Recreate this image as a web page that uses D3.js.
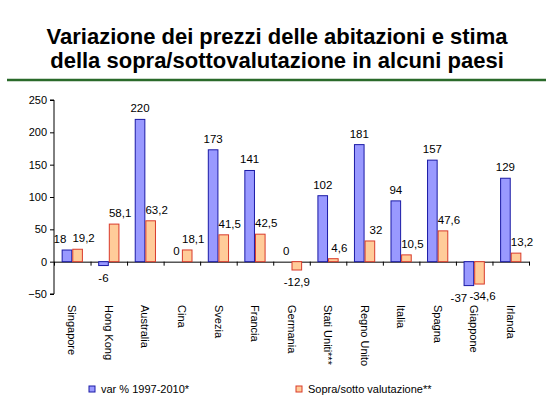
<!DOCTYPE html>
<html>
<head>
<meta charset="utf-8">
<script src="https://cdn.jsdelivr.net/npm/d3@7"></script>
<style>
  body { margin: 0; background: #fff; }
  svg { display: block; font-family: Arial, "Liberation Sans", sans-serif; }
</style>
</head>
<body>
<svg id="chart" width="551" height="404"></svg>
<script>
// dati
const categories = ['Singapore', 'Hong Kong', 'Australia', 'Cina', 'Svezia', 'Francia', 'Germania',
  'Stati Uniti***', 'Regno Unito', 'Italia', 'Spagna', 'Giappone', 'Irlanda'];
const varPrezzi = [18, -6, 220, 0, 173, 141, 0, 102, 181, 94, 157, -37, 129];
const sopraSotto = [19.2, 58.1, 63.2, 18.1, 41.5, 42.5, -12.9, 4.6, 32, 10.5, 47.6, -34.6, 13.2];
const seriesNames = ['var % 1997-2010*', 'Sopra/sotto valutazione**'];
const yTicks = [-50, 0, 50, 100, 150, 200, 250];
const titleLines = ['Variazione dei prezzi delle abitazioni e stima',
  'della sopra/sottovalutazione in alcuni paesi'];

const colors = [
  { fill: '#9999ff', stroke: '#1a1aa6' },
  { fill: '#ffcc99', stroke: '#d93a2b' }
];

const svg = d3.select('#chart');

// titolo
svg.append('g').selectAll('text')
  .data(titleLines)
  .enter().append('text')
  .attr('x', 277)
  .attr('y', (d, i) => 44 + i * 24)
  .attr('text-anchor', 'middle')
  .attr('font-size', 22)
  .attr('font-weight', 'bold')
  .attr('fill', '#000')
  .text(d => d);

svg.append('line')
  .attr('x1', 7).attr('x2', 546)
  .attr('y1', 80).attr('y2', 80)
  .attr('stroke', '#2a6a2a')
  .attr('stroke-width', 2.5);

// scale
const x = d3.scaleBand().domain(categories).range([54, 529]).paddingInner(0).paddingOuter(0);
const xs = d3.scaleBand().domain([0, 1]).range([0, x.bandwidth()]).paddingInner(0).paddingOuter(0.72);
const y = d3.scaleLinear().domain([-50, 250]).range([294, 100]);

// asse y
const yAxis = svg.append('g')
  .attr('transform', 'translate(54,0)')
  .call(d3.axisLeft(y).tickValues(yTicks).tickSize(4).tickPadding(3));
yAxis.selectAll('text').attr('font-size', 11).attr('fill', '#000').attr('font-family', 'Arial, "Liberation Sans", sans-serif');
yAxis.selectAll('line, path').attr('stroke', '#000');
yAxis.select('.domain').attr('d', `M-4,${y(-50)}H0V${y(250)}H-4`);

// asse x sullo zero
const xEdge = d3.scaleLinear().domain([0, categories.length]).range([54, 529]);
const xAxis = svg.append('g')
  .attr('transform', `translate(0,${y(0)})`)
  .call(d3.axisBottom(xEdge).tickValues(d3.range(categories.length + 1)).tickSize(4).tickSizeOuter(0).tickFormat(''));
xAxis.selectAll('line, path').attr('stroke', '#000');

// barre
const rows = categories.map((c, i) => ({ cat: c, vals: [varPrezzi[i], sopraSotto[i]] }));

const groups = svg.append('g').selectAll('g')
  .data(rows)
  .enter().append('g')
  .attr('transform', d => `translate(${x(d.cat)},0)`);

groups.selectAll('rect')
  .data(d => d.vals.map((v, s) => ({ v, s })))
  .enter().append('rect')
  .attr('x', d => xs(d.s) + 0.5)
  .attr('width', xs.bandwidth() - 1)
  .attr('y', d => Math.min(y(d.v), y(0)))
  .attr('height', d => Math.abs(y(d.v) - y(0)))
  .attr('fill', d => colors[d.s].fill)
  .attr('stroke', d => colors[d.s].stroke)
  .attr('stroke-width', 1);

// etichette valori (virgola decimale)
const fmt = v => String(v).replace('.', ',');

groups.each(function (d) {
  const g = d3.select(this);
  const [a, b] = d.vals;
  const overlap = Math.sign(a) === Math.sign(b) && Math.abs(a - b) < 8;
  d.vals.forEach((v, s) => {
    let dx = 0;
    if (s === 0) dx = overlap ? (v < 0 ? -10 : -7) : 0;
    else dx = v >= 0 ? 6 : (overlap ? 3 : 0);
    g.append('text')
      .attr('x', xs(s) + xs.bandwidth() / 2 + dx)
      .attr('y', v >= 0 ? y(v) - 7 : y(v) + 16)
      .attr('text-anchor', 'middle')
      .attr('font-size', 11.5)
      .attr('fill', '#000')
      .text(fmt(v));
  });
});

// etichette categorie ruotate
svg.append('g').selectAll('text')
  .data(categories)
  .enter().append('text')
  .attr('transform', d => `translate(${x(d) + x.bandwidth() / 2},305) rotate(90)`)
  .attr('dy', '0.35em')
  .attr('font-size', 11)
  .attr('fill', '#000')
  .text(d => d);

// legenda
const legendX = [89, 296];
const legend = svg.append('g').selectAll('g')
  .data(seriesNames)
  .enter().append('g')
  .attr('transform', (d, i) => `translate(${legendX[i]},386)`);
legend.append('rect')
  .attr('width', 6).attr('height', 6)
  .attr('fill', (d, i) => colors[i].fill)
  .attr('stroke', (d, i) => colors[i].stroke);
legend.append('text')
  .attr('x', 12).attr('y', 3)
  .attr('dy', '0.35em')
  .attr('font-size', 11)
  .attr('fill', '#000')
  .text(d => d);
</script>
</body>
</html>
